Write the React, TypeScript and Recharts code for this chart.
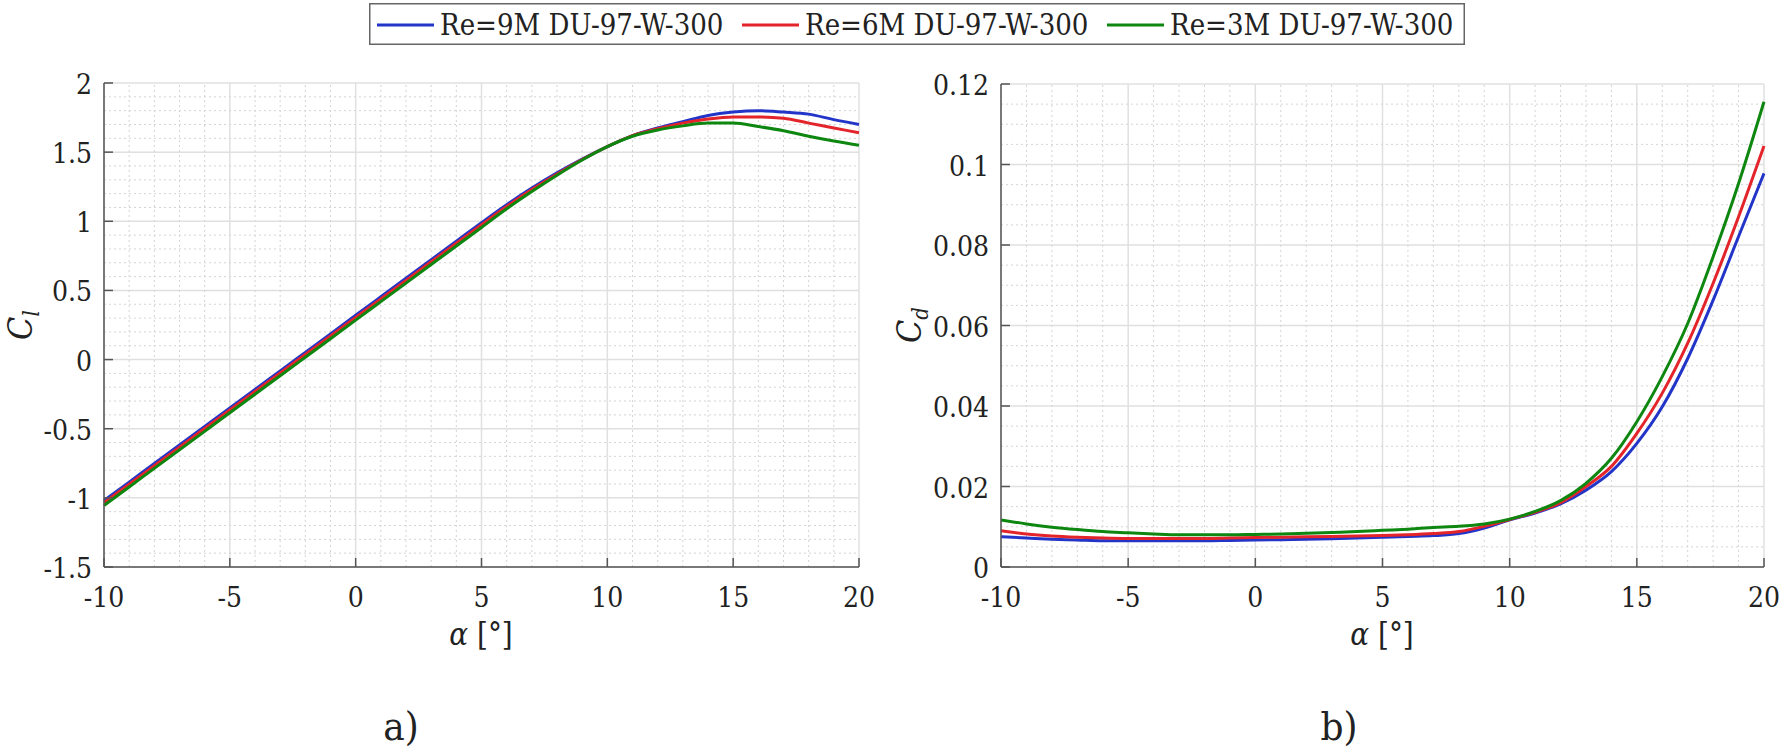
import React from 'react';
import { LineChart, Line, XAxis, YAxis, CartesianGrid, ReferenceLine } from 'recharts';

// angle of attack [deg]
const ALPHA = [-10, -9, -8, -7, -6, -5, -4, -3, -2, -1, 0, 1, 2, 3, 4, 5, 6, 7, 8, 9, 10, 11, 12, 13, 14, 15, 16, 17, 18, 19, 20];

// lift coefficient
const CL_9M = [-1.02, -0.886, -0.752, -0.618, -0.484, -0.35, -0.216, -0.082, 0.052, 0.186, 0.32, 0.454, 0.588, 0.722, 0.856, 0.99, 1.12, 1.24, 1.35, 1.45, 1.54, 1.62, 1.675, 1.72, 1.765, 1.79, 1.8, 1.79, 1.775, 1.735, 1.7];
const CL_6M = [-1.035, -0.901, -0.767, -0.633, -0.499, -0.365, -0.231, -0.097, 0.037, 0.171, 0.305, 0.439, 0.573, 0.707, 0.841, 0.975, 1.107, 1.229, 1.342, 1.447, 1.54, 1.62, 1.67, 1.71, 1.74, 1.755, 1.755, 1.745, 1.71, 1.675, 1.64];
const CL_3M = [-1.055, -0.921, -0.787, -0.653, -0.519, -0.385, -0.251, -0.117, 0.017, 0.151, 0.285, 0.419, 0.553, 0.687, 0.821, 0.955, 1.09, 1.215, 1.333, 1.443, 1.54, 1.615, 1.66, 1.69, 1.71, 1.71, 1.685, 1.655, 1.615, 1.58, 1.55];

// drag coefficient
const CD_9M = [0.0075, 0.0072, 0.0069, 0.0067, 0.0065, 0.0065, 0.0065, 0.0065, 0.0065, 0.0066, 0.0067, 0.0068, 0.0069, 0.007, 0.0072, 0.0074, 0.0076, 0.0078, 0.0083, 0.0097, 0.0117, 0.0134, 0.0157, 0.0191, 0.0237, 0.0307, 0.0398, 0.0518, 0.0663, 0.0821, 0.0978];
const CD_6M = [0.009, 0.0082, 0.0077, 0.0074, 0.0072, 0.0071, 0.0071, 0.0071, 0.0071, 0.0072, 0.0073, 0.0074, 0.0075, 0.0076, 0.0077, 0.0078, 0.008, 0.0083, 0.0088, 0.0101, 0.0118, 0.0136, 0.016, 0.02, 0.025, 0.0332, 0.0432, 0.0556, 0.0705, 0.087, 0.1046];
const CD_3M = [0.0117, 0.0107, 0.0099, 0.0093, 0.0088, 0.0085, 0.0082, 0.008, 0.008, 0.008, 0.0081, 0.0082, 0.0084, 0.0086, 0.0088, 0.0091, 0.0094, 0.0098, 0.0101, 0.0107, 0.0119, 0.0138, 0.0165, 0.0208, 0.027, 0.0361, 0.0473, 0.0605, 0.0771, 0.0953, 0.1156];

const X_TICKS = [-10, -5, 0, 5, 10, 15, 20];
const CL_TICKS = [-1.5, -1, -0.5, 0, 0.5, 1, 1.5, 2];
const CD_TICKS = [0, 0.02, 0.04, 0.06, 0.08, 0.1, 0.12];

const SERIES = [
  { key: 're9', name: 'Re=9M DU-97-W-300', color: '#2335c8' },
  { key: 're6', name: 'Re=6M DU-97-W-300', color: '#e3252b' },
  { key: 're3', name: 'Re=3M DU-97-W-300', color: '#0d870f' },
];

const clData = ALPHA.map((a, i) => ({ alpha: a, re9: CL_9M[i], re6: CL_6M[i], re3: CL_3M[i] }));
const cdData = ALPHA.map((a, i) => ({ alpha: a, re9: CD_9M[i], re6: CD_6M[i], re3: CD_3M[i] }));

// minor grid positions between the major ticks
const minorTicks = (lo: number, hi: number, step: number, major: number) => {
  const out: number[] = [];
  const n = Math.round((hi - lo) / step);
  for (let i = 1; i < n; i++) {
    const v = +(lo + i * step).toFixed(6);
    const r = v / major;
    if (Math.abs(r - Math.round(r)) > 1e-6) out.push(v);
  }
  return out;
};

const FONT = "'DejaVu Serif Condensed', 'DejaVu Serif', serif";
const AXIS = '#555555';
const TEXT = '#222222';
const serif = { fontFamily: FONT };

const fmt = (v: number) => String(v);

const BottomTick = (props: any) => {
  const { x, y, payload } = props;
  return (
    <g>
      <line x1={x} x2={x} y1={y} y2={y - 9} stroke={AXIS} strokeWidth={1.5} />
      <text x={x} y={y + 40} textAnchor="middle" style={serif} fontSize={28} fill={TEXT}>{fmt(payload.value)}</text>
    </g>
  );
};
const TopTick = (props: any) => {
  const { x, y } = props;
  return <line x1={x} x2={x} y1={y} y2={y + 9} stroke={AXIS} strokeWidth={1.5} />;
};
const LeftTick = (props: any) => {
  const { x, y, payload } = props;
  return (
    <g>
      <line x1={x} x2={x + 9} y1={y} y2={y} stroke={AXIS} strokeWidth={1.5} />
      <text x={x - 12} y={y + 11} textAnchor="end" style={serif} fontSize={28} fill={TEXT}>{fmt(payload.value)}</text>
    </g>
  );
};
const RightTick = (props: any) => {
  const { x, y } = props;
  return <line x1={x} x2={x - 9} y1={y} y2={y} stroke={AXIS} strokeWidth={1.5} />;
};

interface PanelProps {
  data: any[];
  yDomain: [number, number];
  yTicks: number[];
  yMinorStep: number;
  yMajorStep: number;
  width: number;
  margin: { top: number; right: number; left: number; bottom: number };
  yAxisWidth: number;
}

const Panel: React.FC<PanelProps> = ({ data, yDomain, yTicks, yMinorStep, yMajorStep, width, margin, yAxisWidth }) => {
  const xMinor = minorTicks(-10, 20, 1, 5);
  const yMinor = minorTicks(yDomain[0], yDomain[1], yMinorStep, yMajorStep);
  const axisLine = { stroke: AXIS, strokeWidth: 1.5 };
  return (
    <LineChart width={width} height={620} data={data} margin={margin} style={{ overflow: 'visible' }}>
      <CartesianGrid stroke="#e0e0e0" strokeWidth={1.5} />
      {xMinor.map((v) => (
        <ReferenceLine key={'mx' + v} x={v} stroke="#d4d4d4" strokeDasharray="2 3" strokeWidth={1} />
      ))}
      {yMinor.map((v) => (
        <ReferenceLine key={'my' + v} y={v} stroke="#d4d4d4" strokeDasharray="2 3" strokeWidth={1} />
      ))}
      <XAxis dataKey="alpha" type="number" domain={[-10, 20]} ticks={X_TICKS} interval={0} height={53}
        tickSize={0} tickMargin={0} tickLine={false} axisLine={axisLine} tick={BottomTick} />
      <XAxis xAxisId="top" orientation="top" type="number" domain={[-10, 20]} ticks={X_TICKS} interval={0} height={0}
        allowDataOverflow tickSize={0} tickMargin={0} tickLine={false} axisLine={axisLine} tick={TopTick} />
      <YAxis type="number" domain={yDomain} ticks={yTicks} interval={0} width={yAxisWidth}
        tickSize={0} tickMargin={0} tickLine={false} axisLine={axisLine} tick={LeftTick} />
      <YAxis yAxisId="right" orientation="right" type="number" domain={yDomain} ticks={yTicks} interval={0} width={0}
        allowDataOverflow tickSize={0} tickMargin={0} tickLine={false} axisLine={axisLine} tick={RightTick} />
      {SERIES.map((s) => (
        <Line key={s.key} dataKey={s.key} name={s.name} type="monotone" stroke={s.color} strokeWidth={3}
          dot={false} activeDot={false} isAnimationActive={false} />
      ))}
    </LineChart>
  );
};

const Legend: React.FC = () => (
  <svg width={1096} height={42} style={{ position: 'absolute', left: 369, top: 3 }}>
    <rect x={0.75} y={0.75} width={1094.5} height={40.5} fill="#fff" stroke="#666" strokeWidth={1.5} />
    {SERIES.map((s, i) => {
      const x0 = 8 + i * 365;
      return (
        <g key={s.key}>
          <line x1={x0} x2={x0 + 57} y1={22} y2={22} stroke={s.color} strokeWidth={3} />
          <text x={x0 + 63} y={32} style={serif} fontSize={29} fill={TEXT}>{s.name}</text>
        </g>
      );
    })}
  </svg>
);

export default function App() {
  return (
    <div style={{ position: 'absolute', left: 0, top: 0, width: 1779, height: 750, background: '#fff', overflow: 'hidden', fontFamily: FONT }}>
      <svg width={1779} height={750} style={{ position: 'absolute', left: 0, top: 0 }}>
        <g fill={TEXT} style={serif}>
          <text transform="translate(32,325) rotate(-90)" textAnchor="middle" fontSize={34} fontStyle="italic" style={serif}>
            C<tspan fontSize={22} dy={7}>l</tspan>
          </text>
          <text transform="translate(921,325) rotate(-90)" textAnchor="middle" fontSize={34} fontStyle="italic" style={serif}>
            C<tspan fontSize={22} dy={7}>d</tspan>
          </text>
          <text x={481} y={645} textAnchor="middle" fontSize={31} style={serif}>
            <tspan fontStyle="italic">α</tspan> [°]
          </text>
          <text x={1382} y={645} textAnchor="middle" fontSize={31} style={serif}>
            <tspan fontStyle="italic">α</tspan> [°]
          </text>
          <text x={401} y={740} textAnchor="middle" fontSize={40} style={serif}>a)</text>
          <text x={1339} y={740} textAnchor="middle" fontSize={40} style={serif}>b)</text>
        </g>
      </svg>
      <div style={{ position: 'absolute', left: 0, top: 0 }}>
        <Panel data={clData} yDomain={[-1.5, 2]} yTicks={CL_TICKS} yMinorStep={0.1} yMajorStep={0.5}
          width={900} margin={{ top: 83, right: 41, left: 0, bottom: 0 }} yAxisWidth={104} />
      </div>
      <div style={{ position: 'absolute', left: 900, top: 0 }}>
        <Panel data={cdData} yDomain={[0, 0.12]} yTicks={CD_TICKS} yMinorStep={0.005} yMajorStep={0.02}
          width={879} margin={{ top: 84, right: 15, left: 0, bottom: 0 }} yAxisWidth={101} />
      </div>
      <Legend />
    </div>
  );
}
